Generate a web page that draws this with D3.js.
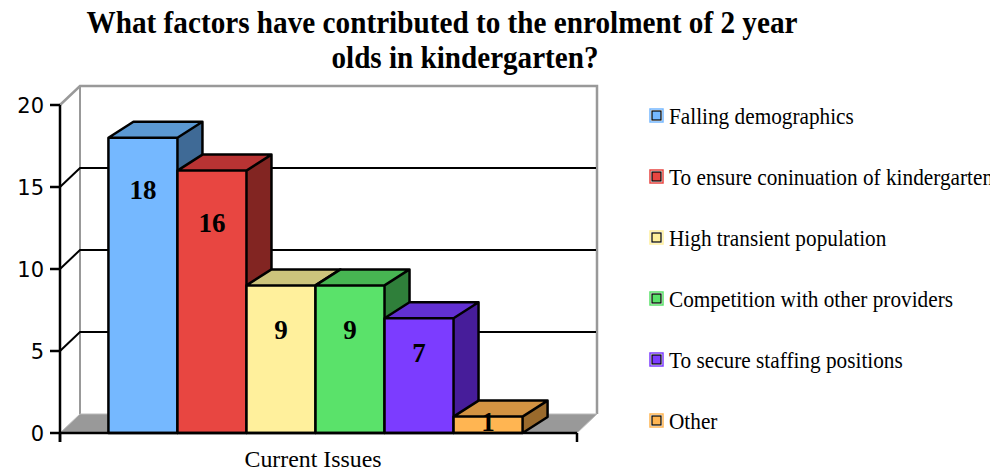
<!DOCTYPE html>
<html>
<head>
<meta charset="utf-8">
<script src="https://cdn.jsdelivr.net/npm/d3@7"></script>
<style>
  html, body { margin: 0; padding: 0; background: #fff; overflow: hidden; }
</style>
</head>
<body>
<div id="chart"></div>
<script>
// data
const category = 'Current Issues';
const series = ['Falling demographics', 'To ensure coninuation of kindergarten', 'High transient population',
  'Competition with other providers', 'To secure staffing positions', 'Other'];
const values = [18, 16, 9, 9, 7, 1];
const yTicks = [0, 5, 10, 15, 20];
const titleLines = ['What factors have contributed to the enrolment of 2 year', 'olds in kindergarten?'];

// colours: front, top, side
const fronts = ['#75b8ff', '#e84641', '#fff09c', '#5ae26a', '#7c3cff', '#ffb552'];
const tops = ['#5b98d2', '#b83333', '#ccc47c', '#47b552', '#6230d2', '#d39342'];
const sides = ['#3f6a96', '#822522', '#a09a60', '#2f7f3a', '#471d9a', '#9a6a2c'];

const W = 990, H = 472;
const left = 60, right = 577, y0 = 433, yTop = 105;
const wall = { dx: 20, dy: -19 };
const depth = { dx: 25, dy: -16 };
const serif = '"Liberation Serif", "Times New Roman", serif';

const svg = d3.select('#chart').append('svg')
  .attr('width', W).attr('height', H);

const y = d3.scaleLinear().domain([0, 20]).range([y0, yTop]);
const x = d3.scaleBand().domain(series).range([left - 3, right - 3]).paddingInner(0).paddingOuter(0.745);

// back wall + side wall outline
const g = svg.append('g');
g.append('path')
  .attr('d', `M${left},${y(20)} L${left + wall.dx},${y(20) + wall.dy} L${right + wall.dx},${y(20) + wall.dy} L${right + wall.dx},${y0 + wall.dy}`)
  .attr('fill', 'none').attr('stroke', '#999').attr('stroke-width', 2.5);
g.append('line')
  .attr('x1', left + wall.dx).attr('x2', left + wall.dx)
  .attr('y1', y(20) + wall.dy).attr('y2', y0 + wall.dy)
  .attr('stroke', '#999').attr('stroke-width', 2);

// gridlines on side + back wall
const grid = yTicks.filter(t => t > 0 && t < 20);
g.selectAll('.grid').data(grid).enter().append('path')
  .attr('class', 'grid')
  .attr('d', t => `M${left},${y(t)} L${left + wall.dx},${y(t) + wall.dy} L${right + wall.dx - 1},${y(t) + wall.dy}`)
  .attr('fill', 'none').attr('stroke', '#000').attr('stroke-width', 2);

// floor
g.append('path')
  .attr('d', `M${left},${y0} L${left + wall.dx},${y0 + wall.dy} L${right + wall.dx},${y0 + wall.dy} L${right},${y0} Z`)
  .attr('fill', '#999').attr('stroke', '#bbb').attr('stroke-width', 1);

// bars
const bars = svg.append('g').selectAll('.bar').data(values).enter().append('g').attr('class', 'bar');
const bw = x.bandwidth();
bars.each(function (v, i) {
  const b = d3.select(this);
  const x0 = x(series[i]), x1 = x0 + bw, yt = y(v);
  // side
  b.append('path')
    .attr('d', `M${x1},${y0} L${x1 + depth.dx},${y0 + depth.dy} L${x1 + depth.dx},${yt + depth.dy} L${x1},${yt} Z`)
    .attr('fill', sides[i]);
  // top
  b.append('path')
    .attr('d', `M${x0},${yt} L${x0 + depth.dx},${yt + depth.dy} L${x1 + depth.dx},${yt + depth.dy} L${x1},${yt} Z`)
    .attr('fill', tops[i]);
  // front
  b.append('rect')
    .attr('x', x0).attr('y', yt).attr('width', bw).attr('height', y0 - yt)
    .attr('fill', fronts[i]);
  // outlines
  b.append('path')
    .attr('d', `M${x0},${y0} L${x0},${yt} L${x0 + depth.dx},${yt + depth.dy} L${x1 + depth.dx},${yt + depth.dy} L${x1 + depth.dx},${y0 + depth.dy} L${x1},${y0} Z M${x0},${yt} L${x1},${yt} L${x1},${y0} M${x1},${yt} L${x1 + depth.dx},${yt + depth.dy}`)
    .attr('fill', 'none').attr('stroke', '#000').attr('stroke-width', 2.5).attr('stroke-linejoin', 'round');
});

// value labels
svg.append('g').selectAll('text').data(values).enter().append('text')
  .attr('x', (v, i) => x(series[i]) + bw / 2)
  .attr('y', v => y(v) + Math.min(52, (y0 - y(v)) * 0.3))
  .attr('dy', '0.35em')
  .attr('text-anchor', 'middle')
  .attr('font-family', serif)
  .attr('font-weight', 'bold')
  .attr('font-size', 27)
  .text(v => v);

// axes
const yAxis = svg.append('g');
yAxis.append('line')
  .attr('x1', left).attr('x2', left).attr('y1', y(20)).attr('y2', y0 + 9)
  .attr('stroke', '#000').attr('stroke-width', 2.5);
yAxis.selectAll('.tick').data(yTicks).enter().append('line')
  .attr('x1', left - 10).attr('x2', left).attr('y1', t => y(t)).attr('y2', t => y(t))
  .attr('stroke', '#000').attr('stroke-width', 2.5);
yAxis.selectAll('.lbl').data(yTicks).enter().append('text')
  .attr('x', left - 16).attr('y', t => y(t)).attr('dy', '0.36em')
  .attr('text-anchor', 'end')
  .attr('font-family', '"DejaVu Sans", Verdana, sans-serif')
  .attr('font-size', 21)
  .text(t => t);

const xAxis = svg.append('g');
xAxis.append('line')
  .attr('x1', left).attr('x2', right).attr('y1', y0).attr('y2', y0)
  .attr('stroke', '#000').attr('stroke-width', 2.5);
xAxis.selectAll('.tick').data([left, right]).enter().append('line')
  .attr('x1', d => d).attr('x2', d => d).attr('y1', y0).attr('y2', y0 + 9)
  .attr('stroke', '#000').attr('stroke-width', 2.5);
xAxis.append('text')
  .attr('x', 313).attr('y', 467)
  .attr('text-anchor', 'middle')
  .attr('font-family', serif)
  .attr('font-size', 23)
  .attr('textLength', 137).attr('lengthAdjust', 'spacingAndGlyphs')
  .text(category);

// title
const title = svg.append('g');
title.append('text')
  .attr('x', 442).attr('y', 33)
  .attr('text-anchor', 'middle')
  .attr('font-family', serif)
  .attr('font-weight', 'bold').attr('font-size', 31)
  .attr('textLength', 711).attr('lengthAdjust', 'spacingAndGlyphs')
  .text(titleLines[0]);
title.append('text')
  .attr('x', 465).attr('y', 68)
  .attr('text-anchor', 'middle')
  .attr('font-family', serif)
  .attr('font-weight', 'bold').attr('font-size', 31)
  .attr('textLength', 267).attr('lengthAdjust', 'spacingAndGlyphs')
  .text(titleLines[1]);

// legend
const legend = svg.append('g').attr('transform', 'translate(651,116)');
const items = legend.selectAll('.item').data(series).enter().append('g')
  .attr('transform', (d, i) => `translate(0,${i * 61})`);
items.append('rect')
  .attr('x', -1).attr('y', -7).attr('width', 13).attr('height', 13)
  .attr('fill', 'none').attr('stroke', (d, i) => fronts[i]).attr('stroke-width', 1.5);
items.append('rect')
  .attr('x', 1).attr('y', -5).attr('width', 9).attr('height', 9)
  .attr('fill', (d, i) => fronts[i]).attr('stroke', '#000').attr('stroke-width', 1.2);
items.append('text')
  .attr('transform', 'translate(18,0) scale(0.925,1)')
  .attr('dy', '0.35em')
  .attr('font-family', serif)
  .attr('font-size', 23)
  .text(d => d);
</script>
</body>
</html>
